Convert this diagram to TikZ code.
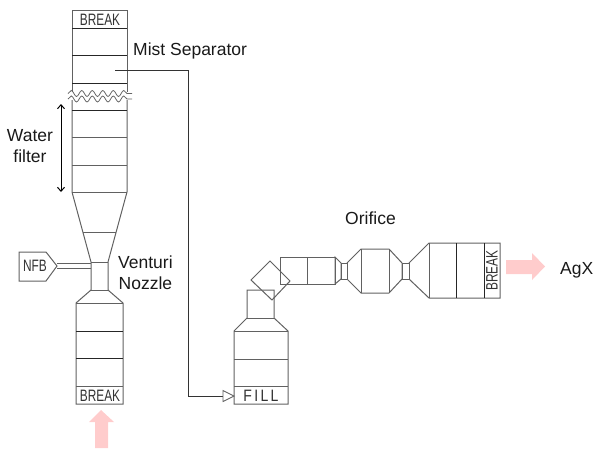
\documentclass[tikz,border=0pt]{standalone}
\usepackage{fontspec}
\setmainfont{Liberation Sans}
\usetikzlibrary{arrows.meta,decorations.pathmorphing}
\tikzset{
  body/.style={draw=black!62,line width=1pt,line join=miter},
  divider/.style={draw=black!85,line width=0.9pt},
  pinkarrow/.style={fill=red!20,draw=none},
  lbl/.style={font=\fontsize{17.5}{21}\selectfont,align=center,inner sep=0pt,text=black!90},
  cad/.style={inner sep=0pt,text=black!80,font=\fontsize{16.5}{16.5}\selectfont},
  wavy/.style={draw=black!60,line width=0.8pt,decorate,decoration={snake,segment length=10.5pt,amplitude=3pt}},
  pipe/.style={draw=black!80,line width=0.8pt},
  dim/.style={draw=black,line width=1pt,{Straight Barb[length=4pt,width=7pt]}-{Straight Barb[length=4pt,width=7pt]}}
}
\begin{document}
\begin{tikzpicture}[x=1pt,y=-1pt]
\useasboundingbox (0,0) rectangle (593,448);
% top column
\draw[body] (72,92) -- (72,10) -- (127,10) -- (127,92);
\draw[body] (72,100) -- (72,192) -- (91,262) -- (91,290) -- (76,303) -- (76,404) -- (123,404) -- (123,303) -- (108,290) -- (108,262) -- (127,192) -- (127,100);
\draw[body] (72,192) -- (127,192);
\draw[divider] (72,28) -- (127,28) (72,55) -- (127,55) (72,83) -- (127,83) (72,110) -- (127,110);
\draw[body] (72,137) -- (127,137) (72,165) -- (127,165);
\draw[body] (83,232) -- (116,232) (91,262) -- (108,262) (91,290) -- (108,290);
\draw[wavy] (68,93.5) -- (132,93.5);
\draw[wavy] (68,99) -- (132,99);
\node[cad] (breaktop) at (100,19.5) {\scalebox{0.72}[1]{BREAK}};
% lower column
\draw[body] (76,303) -- (123,303) (76,386) -- (123,386);
\draw[divider] (76,331) -- (123,331) (76,358) -- (123,358);
\node[cad] (breakbottom) at (100,396) {\scalebox{0.72}[1]{BREAK}};
% NFB
\draw[body] (19,252) -- (46,252) -- (57,266) -- (46,281) -- (19,281) -- cycle;
\node[cad] (nfb) at (35,266) {\scalebox{0.72}[1]{NFB}};
\draw[body] (57,263) -- (91,263) (57,268) -- (91,268);
% right lower column
\draw[body] (247,290) -- (274,290) -- (274,318) -- (288,331) -- (288,404) -- (234,404) -- (234,331) -- (247,318) -- cycle;
\draw[body] (247,318) -- (274,318) (234,331) -- (288,331) (234,359) -- (288,359) (234,386) -- (288,386);
\node[cad] (fill) at (261,396) {\scalebox{0.85}[1]{F\,I\,L\,L}};
% diamond
\draw[body] (270,261) -- (290,281) -- (272,300) -- (251,280) -- cycle;
% horizontal train
\draw[body] (280,257) rectangle (335,284);
\draw[body] (307,257) -- (307,284);
\draw[body] (335,257) -- (341,263) -- (341,279) -- (335,284) -- cycle;
\draw[body] (341,263) rectangle (347,279);
\draw[body] (347,263) -- (361,249) -- (389,249) -- (402,263) -- (402,279) -- (389,293) -- (361,293) -- (347,279);
\draw[body] (361,249) -- (361,293) (389,249) -- (389,293);
\draw[body] (402,263) rectangle (409,279);
\draw[body] (409,263) -- (429,243) -- (500,243) -- (500,298) -- (429,298) -- (409,279);
\draw[body] (429,243) -- (429,298);
\draw[divider] (456,243) -- (456,298) (484,243) -- (484,298);
\node[cad,rotate=90] (breakright) at (492,270.5) {\scalebox{0.72}[1]{BREAK}};
% connector
\coordinate (tap) at (115,70);
\coordinate (bendA) at (188,70);
\coordinate (bendB) at (188,396);
\coordinate (valve) at (223,396);
\draw[pipe] (tap) -- (bendA) -- (bendB) -- (valve);
\draw[body,line width=0.9pt] (valve) ++(0,-5.5) -- (234,396) -- (223,401.5) -- cycle;
% dimension arrow
\coordinate (dimtop) at (61,104);
\coordinate (dimbot) at (61,192);
\draw[dim] (dimtop) -- (dimbot);
% pink arrows
\fill[pinkarrow] (95,448) -- (95,422) -- (89,422) -- (101,410) -- (114,422) -- (108,422) -- (108,448) -- cycle;
\fill[pinkarrow] (506,260) -- (532,260) -- (532,253) -- (545,266.5) -- (532,280) -- (532,274) -- (506,274) -- cycle;
% labels
\node[lbl,anchor=west] (mist) at (133,50.5) {Mist Separator};
\node[lbl] (water) at (30,146) {Water\\filter};
\node[lbl,anchor=west] (venturi) at (118,272.5) {Venturi\\Nozzle};
\node[lbl] (orifice) at (370.5,218) {Orifice};
\node[lbl,anchor=west] (agx) at (560,270) {AgX};
\end{tikzpicture}
\end{document}
